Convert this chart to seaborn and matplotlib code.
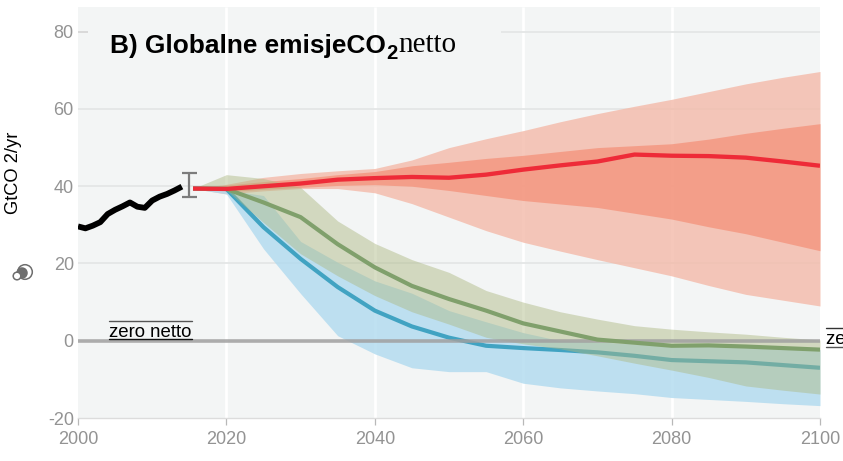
import matplotlib
matplotlib.use("Agg")
import matplotlib.pyplot as plt
from matplotlib.lines import Line2D
from matplotlib.patches import Circle
from matplotlib.transforms import IdentityTransform
import pandas as pd
import seaborn as sns

hist_years = list(range(2000, 2015))
hist_values = [29.6, 29.1, 29.8, 30.7, 32.8, 33.9, 34.8, 35.8, 34.7, 34.4, 36.3, 37.3, 38.0, 38.9, 39.9]

years = [2015.5, 2020, 2025, 2030, 2035, 2040, 2045, 2050, 2055, 2060, 2065, 2070, 2075, 2080, 2085, 2090, 2095, 2100]

red_mid = [39.4, 39.3, 40.0, 40.7, 41.7, 42.1, 42.4, 42.2, 43.0, 44.3, 45.4, 46.4, 48.2, 47.9, 47.8, 47.4, 46.4, 45.3]
red_hi95 = [39.4, 40.5, 42.3, 43.3, 44.0, 44.6, 46.8, 50.0, 52.3, 54.4, 56.7, 58.8, 60.7, 62.5, 64.5, 66.5, 68.2, 69.7]
red_hi50 = [39.4, 40.3, 41.2, 42.0, 43.0, 43.8, 45.3, 46.2, 47.2, 48.0, 49.0, 50.0, 50.5, 51.0, 52.2, 53.7, 55.0, 56.2]
red_lo50 = [39.4, 38.6, 39.2, 39.7, 40.2, 40.4, 40.0, 38.9, 37.6, 36.3, 35.4, 34.5, 33.0, 31.5, 29.5, 27.7, 25.5, 23.3]
red_lo95 = [39.4, 38.0, 38.8, 39.4, 39.4, 38.3, 35.5, 32.0, 28.5, 25.5, 23.2, 21.0, 18.9, 16.8, 14.3, 12.0, 10.5, 9.0]

green_mid = [39.4, 39.3, 35.8, 32.0, 25.0, 19.0, 14.2, 10.8, 7.8, 4.5, 2.4, 0.3, -0.5, -1.3, -1.2, -1.5, -1.9, -2.3]
green_hi = [39.4, 43.0, 42.0, 39.7, 31.0, 25.2, 21.0, 17.7, 13.0, 10.0, 7.5, 5.6, 3.9, 3.0, 2.3, 1.7, 0.9, 0.2]
green_lo = [39.4, 39.0, 30.6, 22.5, 16.8, 11.7, 7.5, 4.3, 0.9, -0.8, -2.1, -3.9, -5.8, -7.6, -9.5, -11.7, -12.8, -13.8]

blue_mid = [39.4, 39.3, 29.4, 21.2, 13.9, 7.8, 3.7, 0.8, -1.3, -1.9, -2.4, -3.0, -3.9, -5.0, -5.3, -5.6, -6.3, -7.0]
blue_hi = [39.4, 39.0, 37.6, 25.7, 20.3, 15.5, 12.3, 7.8, 4.9, 2.1, 0.0, -0.3, -0.8, -1.3, -1.3, -1.5, -1.9, -2.3]
blue_lo = [39.4, 38.0, 23.8, 12.2, 1.3, -3.4, -7.0, -8.0, -8.0, -11.0, -12.2, -13.0, -13.7, -14.7, -15.2, -15.7, -16.3, -16.8]

err_year = [2015]
err_center = [40.3]
err_half = [3.2]

x_ticks = [2000, 2020, 2040, 2060, 2080, 2100]
y_ticks = [-20, 0, 20, 40, 60, 80]
net_zero = 0
stub_level = 80

SANS = "Liberation Sans"
SERIF = "Liberation Serif"
GREY = "#939393"

sns.set_theme(style="white", rc={"axes.facecolor": "#f3f5f5", "figure.facecolor": "white",
                                 "axes.unicode_minus": False})
W, H = 843, 461
fig = plt.figure(figsize=(W / 100, H / 100), dpi=100)
ax = fig.add_axes([78 / W, 1 - 418 / H, (820 - 78) / W, (418 - 7) / H])

ax.set_xlim(2000, 2100)
ax.set_ylim(-20, 86.4)

for x in x_ticks[1:-1]:
    ax.axvline(x, color="white", lw=2, zorder=1)
for y in [20, 40, 60]:
    ax.axhline(y, color="#e4e6e6", lw=1.3, zorder=1.2)
ax.hlines(stub_level, 2057, 2100, color="#e4e6e6", lw=1.3, zorder=1.2)
ax.hlines(stub_level, 2000, 2001.4, color="#d4d4d4", lw=1.2, zorder=1.2)

ax.fill_between(years, red_lo95, red_hi95, color="#f3baa9", alpha=0.8, lw=0, zorder=2)
ax.fill_between(years, red_lo50, red_hi50, color="#f4957e", alpha=0.8, lw=0, zorder=2.1)
ax.fill_between(years, blue_lo, blue_hi, color="#b0daef", alpha=0.8, lw=0, zorder=2.2)

# the blue median sits under the olive band, which tints it teal where they overlap
blue_frame = pd.DataFrame({"year": years, "value": blue_mid})
sns.lineplot(data=blue_frame, x="year", y="value", color="#41a3c2", lw=3.0,
             estimator=None, sort=False, ax=ax, zorder=2.25)

ax.fill_between(years, green_lo, green_hi, color="#adb984", alpha=0.47, lw=0, zorder=2.3)
ax.axhline(net_zero, color="#a0a0a0", lw=2.6, alpha=0.85, zorder=2.5)

frame = pd.concat([
    pd.DataFrame({"year": years, "value": green_mid, "pathway": "green"}),
    pd.DataFrame({"year": years, "value": red_mid, "pathway": "red"}),
    pd.DataFrame({"year": hist_years, "value": hist_values, "pathway": "history"}),
])
palette = {"green": "#80a06c", "red": "#ee2b38", "history": "#000000"}
sizes = {"green": 3.0, "red": 3.1, "history": 4.2}
sns.lineplot(data=frame, x="year", y="value", hue="pathway", palette=palette,
             size="pathway", sizes=sizes, estimator=None, sort=False,
             legend=False, ax=ax, zorder=3)
for ln in ax.get_lines():
    ln.set_solid_capstyle("butt")
    ln.set_solid_joinstyle("round")
ax.errorbar(err_year, err_center, yerr=err_half, color="#7c7c7c", lw=1.6,
            capsize=7.5 * 0.72, capthick=1.6, zorder=3.5)

for side in ["top", "left", "right"]:
    ax.spines[side].set_visible(False)
ax.spines["bottom"].set_color("#dcdcdc")
ax.spines["bottom"].set_linewidth(1)

ax.set_xticks(x_ticks)
ax.set_yticks(y_ticks)
ax.set_xlabel("")
ax.set_ylabel("")
ax.tick_params(axis="x", length=5, width=0.9, color="#b8b8b8", labelsize=13,
               labelcolor=GREY, pad=4, bottom=True)
ax.tick_params(axis="y", length=0, labelsize=13, labelcolor=GREY, pad=3)
for lab in ax.get_xticklabels() + ax.get_yticklabels():
    lab.set_family(SANS)


def px(x, y):
    return x / W, 1 - y / H


fig.text(*px(110, 52.5), "B) Globalne emisjeCO", family=SANS, weight="bold",
         fontsize=18.9, color="black", va="baseline", ha="left")
fig.text(*px(386, 59), "2", family=SANS, weight="bold", fontsize=14.5,
         color="black", va="baseline", ha="left")
fig.text(*px(398, 52.5), "netto", family=SERIF, fontsize=21, color="black",
         va="baseline", ha="left")

fig.text(*px(13, 173), "GtCO 2/yr", family=SANS, fontsize=13.2, rotation=90,
         color="black", va="center", ha="center")

fig.text(*px(109, 337), "zero netto", family=SANS, fontsize=13.4, color="black",
         va="baseline", ha="left")
fig.text(*px(826, 344), "zero netto", family=SANS, fontsize=13.4, color="black",
         va="baseline", ha="left")


def rule(x0, x1, y, color, lw=1.0):
    fig.add_artist(Line2D([x0 / W, x1 / W], [1 - y / H, 1 - y / H], color=color,
                          lw=lw, transform=fig.transFigure, zorder=5))


rule(109, 192, 320.5, "#555555")
rule(109, 192, 339, "#111111")
rule(826, 843, 328, "#333333")
rule(826, 843, 346.5, "#555555")

itr = IdentityTransform()
for (cx, cy, r, fc, ec) in [(25, 272, 7.3, "white", "#6e6e6e"),
                            (22, 273, 5, "#6e6e6e", "#6e6e6e"),
                            (17, 276, 3.8, "white", "#6e6e6e")]:
    fig.add_artist(Circle((cx, H - cy), r, facecolor=fc, edgecolor=ec, lw=1.1,
                          transform=itr, clip_on=False))

fig.savefig("out.png", dpi=100)
